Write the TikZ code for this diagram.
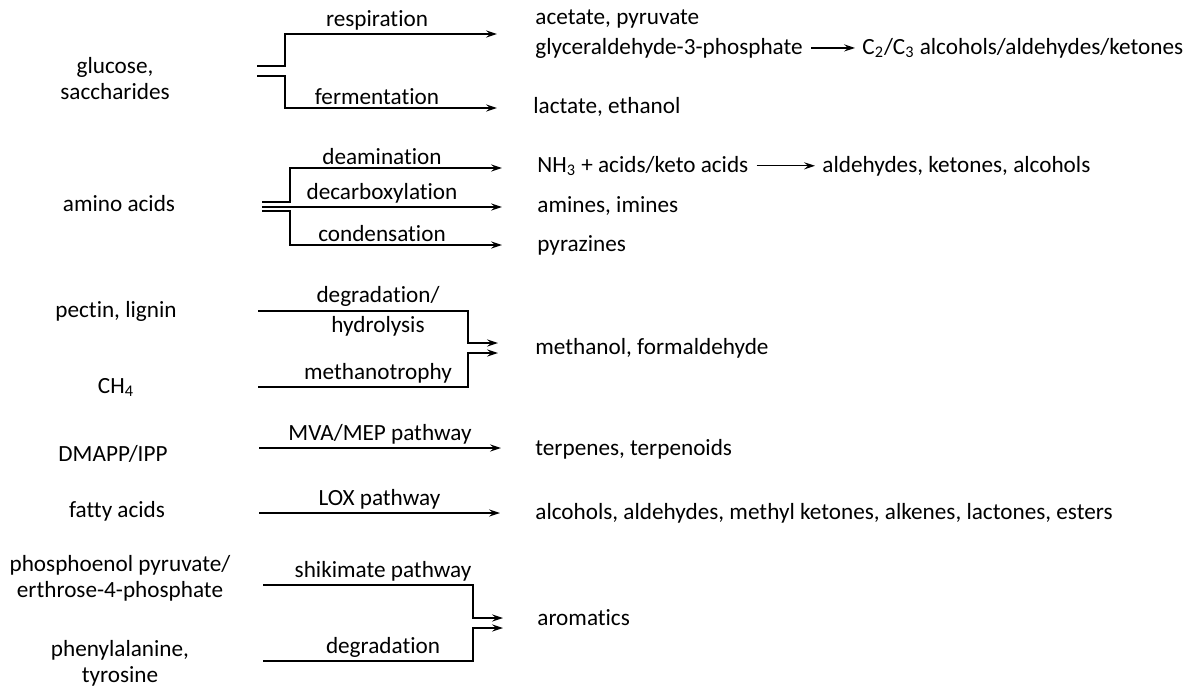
\documentclass[tikz,border=0pt]{standalone}
\usepackage{fontspec}
\setmainfont{Carlito}[Ligatures=NoCommon]
\usetikzlibrary{positioning,arrows.meta,calc}

\begin{document}
\begin{tikzpicture}[
    x=0.5pt, y=0.5pt,
    font=\fontsize{11.6}{13}\selectfont,
    src/.style={align=center, inner sep=0pt},
    prod/.style={anchor=base west, inner sep=0pt},
    lbl/.style={above, inner sep=1.5pt},
    arrow/.style={-{Stealth[length=5.5pt,width=3.6pt,inset=2pt]}, semithick}
]
\useasboundingbox (0,0) rectangle (1194,-691);

% Sugars
\node[src] (gluc) at (115,-79) {glucose,\\saccharides};
\coordinate (g1) at (257,-66);
\coordinate (g2) at (257,-76);
\coordinate (respEnd) at (497,-34);
\coordinate (fermEnd) at (497,-108);
\draw[arrow] (g1) -- ++(28,0) |- (respEnd);
\draw[arrow] (g2) -- ++(28,0) |- (fermEnd);
\path (g1 |- respEnd) -- node[lbl] {respiration} (respEnd);
\path (g2 |- fermEnd) -- node[lbl] {fermentation} (fermEnd);
\node[prod] (acet) at (535,-24) {acetate, pyruvate};
\node[prod] (gap) at (535,-54) {glyceraldehyde-3-phosphate};
\node[prod] (c23) at (862,-54) {C\textsubscript{2}/C\textsubscript{3} alcohols/aldehydes/ketones};
\draw[arrow, shorten <=4pt, shorten >=3.5pt] (gap.east) -- (gap.east -| c23.west);
\node[prod] (lact) at (533,-113) {lactate, ethanol};

% Amino acids
\node[src, anchor=base] (amino) at (119,-211) {amino acids};
\coordinate (a1) at (262,-202);
\coordinate (a2) at (262,-207);
\coordinate (a3) at (262,-211);
\coordinate (deamEnd) at (502,-168);
\coordinate (decEnd) at (502,-207);
\coordinate (condEnd) at (502,-245);
\draw[arrow] (a1) -- ++(28,0) |- (deamEnd);
\draw[arrow] (a2) -- node[lbl] {decarboxylation} (decEnd);
\draw[arrow] (a3) -- ++(28,0) |- (condEnd);
\path (a1 |- deamEnd) -- node[lbl] {deamination} (deamEnd);
\path (a3 |- condEnd) -- node[lbl] {condensation} (condEnd);
\node[prod] (nh3) at (537,-172) {NH\textsubscript{3} + acids/keto acids};
\node[prod] (ald) at (822,-172) {aldehydes, ketones, alcohols};
\draw[arrow, shorten <=4pt, shorten >=3.5pt] (nh3.east) -- (nh3.east -| ald.west);
\node[prod] (amin) at (537,-212) {amines, imines};
\node[prod] (pyr) at (537,-251) {pyrazines};

% Methanol
\node[src, anchor=base] (pect) at (116,-317) {pectin, lignin};
\node[src, anchor=base] (ch4) at (116,-393) {CH\textsubscript{4}};
\coordinate (p1) at (258,-311);
\coordinate (p2) at (258,-387);
\coordinate (methA) at (498,-343);
\coordinate (methB) at (498,-353);
\draw[arrow] (p1) -- ++(210,0) |- (methA);
\draw[arrow] (p2) -- ++(210,0) |- (methB);
\path (p1) -- node[align=center, inner sep=0pt] {degradation/\\[2pt]hydrolysis} (p1 -| methA);
\path (p2) -- node[lbl] {methanotrophy} (p2 -| methB);
\node[prod] (meth) at (535,-354) {methanol, formaldehyde};

% Terpenes
\node[src, anchor=base] (dmapp) at (113,-461) {DMAPP/IPP};
\coordinate (d1) at (259,-448);
\coordinate (terpEnd) at (501,-448);
\draw[arrow] (d1) -- node[lbl] {MVA/MEP pathway} (terpEnd);
\node[prod] (terp) at (535,-455) {terpenes, terpenoids};

% Fatty acids
\node[src, anchor=base] (fatty) at (117,-517) {fatty acids};
\coordinate (f1) at (259,-513);
\coordinate (loxEnd) at (500,-513);
\draw[arrow] (f1) -- node[lbl] {LOX pathway} (loxEnd);
\node[prod] (lox) at (535,-519) {alcohols, aldehydes, methyl ketones, alkenes, lactones, esters};

% Aromatics
\node[src] (pep) at (120,-578) {phosphoenol pyruvate/\\erthrose-4-phosphate};
\node[src] (phe) at (120,-663) {phenylalanine,\\tyrosine};
\coordinate (s1) at (263,-585);
\coordinate (s2) at (263,-661);
\coordinate (aromA) at (503,-618);
\coordinate (aromB) at (503,-628);
\draw[arrow] (s1) -- ++(210,0) |- (aromA);
\draw[arrow] (s2) -- ++(210,0) |- (aromB);
\path (s1) -- node[lbl] {shikimate pathway} (s1 -| aromA);
\path (s2) -- node[lbl] {degradation} (s2 -| aromB);
\node[prod] (arom) at (537,-625) {aromatics};

\end{tikzpicture}
\end{document}
